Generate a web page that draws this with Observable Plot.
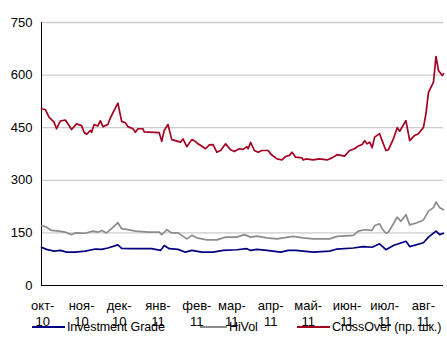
<!DOCTYPE html>
<html>
<head>
<meta charset="utf-8">
<script src="https://cdn.jsdelivr.net/npm/d3@7"></script>
<script src="https://cdn.jsdelivr.net/npm/@observablehq/plot@0.6"></script>
<style>
  html, body { margin: 0; padding: 0; background: #fff; }
  #wrap { position: relative; width: 447px; height: 338px; font-family: "Liberation Sans", Arial, sans-serif; overflow: hidden; }
  #legend { position: absolute; left: 0; top: 318px; width: 447px; height: 20px; font-size: 12.5px; letter-spacing: -0.1px; color: #000; }
  .item { position: absolute; top: 0; height: 18px; display: flex; align-items: center; white-space: nowrap; }
  .swatch { display: inline-block; height: 2px; margin-right: 2px; }
</style>
</head>
<body>
<div id="wrap">
  <div id="chart"></div>
  <div id="legend"></div>
</div>
<script>
// Month labels (Russian abbreviations)
const monthNames = ["янв","фев","мар","апр","май","июн","июл","авг","сен","окт","ноя","дек"];
const yTicks = [0, 150, 300, 450, 600, 750];
const seriesNames = ["Investment Grade", "HiVol", "CrossOver (пр. шк.)"];
const seriesColors = ["#000080", "#8c8c8c", "#a50021"];

const investmentGrade = [
  ["2010-09-30",109],["2010-10-04",103],["2010-10-10",98],["2010-10-15",100],["2010-10-20",95],
  ["2010-10-27",95],["2010-11-04",98],["2010-11-12",104],["2010-11-17",103],["2010-11-22",107],
  ["2010-11-30",116],["2010-12-03",106],["2010-12-11",105],["2010-12-19",105],["2010-12-27",105],
  ["2011-01-03",100],["2011-01-06",114],["2011-01-10",105],["2011-01-17",103],["2011-01-23",95],
  ["2011-01-28",100],["2011-02-05",95],["2011-02-14",95],["2011-02-22",100],["2011-03-05",102],
  ["2011-03-13",105],["2011-03-16",100],["2011-03-21",103],["2011-03-29",100],["2011-04-09",95],
  ["2011-04-15",100],["2011-04-21",100],["2011-04-27",98],["2011-05-05",95],["2011-05-18",98],
  ["2011-05-24",104],["2011-06-06",107],["2011-06-14",111],["2011-06-21",109],["2011-06-27",119],
  ["2011-07-02",102],["2011-07-08",114],["2011-07-18",126],["2011-07-21",111],["2011-08-01",122],
  ["2011-08-05",138],["2011-08-11",155],["2011-08-14",145],["2011-08-17",149]
];

const hiVol = [
  ["2010-09-30",171],["2010-10-04",166],["2010-10-08",157],["2010-10-14",155],["2010-10-19",152],
  ["2010-10-24",145],["2010-10-27",150],["2010-11-04",149],["2010-11-10",155],["2010-11-14",152],
  ["2010-11-17",157],["2010-11-21",150],["2010-11-26",166],["2010-11-30",179],["2010-12-03",162],
  ["2010-12-07",160],["2010-12-14",155],["2010-12-25",152],["2011-01-02",152],["2011-01-04",145],
  ["2011-01-08",159],["2011-01-12",150],["2011-01-17",150],["2011-01-24",133],["2011-01-28",143],
  ["2011-02-01",136],["2011-02-09",130],["2011-02-17",130],["2011-02-24",138],["2011-03-05",138],
  ["2011-03-11",145],["2011-03-16",138],["2011-03-21",141],["2011-03-29",136],["2011-04-06",133],
  ["2011-04-11",136],["2011-04-19",140],["2011-04-27",136],["2011-05-05",133],["2011-05-18",133],
  ["2011-05-24",140],["2011-06-06",143],["2011-06-10",155],["2011-06-15",159],["2011-06-21",157],
  ["2011-06-23",171],["2011-06-27",176],["2011-06-29",162],["2011-07-02",149],["2011-07-04",152],
  ["2011-07-08",176],["2011-07-11",195],["2011-07-14",183],["2011-07-18",202],["2011-07-21",173],
  ["2011-07-27",179],["2011-08-01",187],["2011-08-05",212],["2011-08-09",222],["2011-08-11",238],
  ["2011-08-14",222],["2011-08-17",216]
];

const crossOver = [
  ["2010-09-30",504],["2010-10-03",502],["2010-10-06",480],["2010-10-10",466],["2010-10-12",447],
  ["2010-10-15",469],["2010-10-19",472],["2010-10-22",456],["2010-10-24",445],["2010-10-28",461],
  ["2010-11-01",456],["2010-11-03",437],["2010-11-05",431],["2010-11-08",442],["2010-11-09",437],
  ["2010-11-11",459],["2010-11-14",455],["2010-11-16",470],["2010-11-18",453],["2010-11-22",459],
  ["2010-11-24",478],["2010-11-30",520],["2010-12-03",468],["2010-12-06",464],["2010-12-08",453],
  ["2010-12-12",447],["2010-12-14",437],["2010-12-16",447],["2010-12-20",447],["2010-12-21",438],
  ["2011-01-02",436],["2011-01-04",411],["2011-01-06",442],["2011-01-09",459],["2011-01-12",416],
  ["2011-01-17",411],["2011-01-19",409],["2011-01-21",418],["2011-01-24",396],["2011-01-28",416],
  ["2011-01-30",413],["2011-02-02",404],["2011-02-08",390],["2011-02-11",401],["2011-02-14",402],
  ["2011-02-17",380],["2011-02-20",385],["2011-02-24",404],["2011-02-28",387],["2011-03-03",382],
  ["2011-03-07",390],["2011-03-10",388],["2011-03-13",396],["2011-03-14",390],["2011-03-16",408],
  ["2011-03-19",385],["2011-03-22",380],["2011-03-25",385],["2011-03-30",385],["2011-04-01",375],
  ["2011-04-06",361],["2011-04-10",358],["2011-04-13",368],["2011-04-16",371],["2011-04-18",380],
  ["2011-04-21",366],["2011-04-26",364],["2011-04-27",358],["2011-04-29",361],["2011-05-05",358],
  ["2011-05-10",361],["2011-05-16",358],["2011-05-20",364],["2011-05-24",373],["2011-05-30",369],
  ["2011-06-03",385],["2011-06-07",390],["2011-06-10",398],["2011-06-13",402],["2011-06-15",413],
  ["2011-06-17",404],["2011-06-19",409],["2011-06-21",393],["2011-06-23",423],["2011-06-27",433],
  ["2011-06-29",413],["2011-07-02",385],["2011-07-04",387],["2011-07-08",418],["2011-07-11",450],
  ["2011-07-13",440],["2011-07-18",470],["2011-07-21",413],["2011-07-25",428],["2011-07-28",433],
  ["2011-08-01",451],["2011-08-03",490],["2011-08-05",551],["2011-08-09",580],["2011-08-11",653],
  ["2011-08-13",613],["2011-08-16",599],["2011-08-17",604]
];

const parse = d3.utcParse("%Y-%m-%d");
const seriesData = [investmentGrade, hiVol, crossOver];
const rows = [];
seriesData.forEach((arr, i) => arr.forEach(([d, v]) => rows.push({date: parse(d), value: v, series: seriesNames[i]})));

const xStart = parse("2010-09-30"), xEnd = parse("2011-08-17");
const monthTicks = d3.utcMonth.range(parse("2010-10-01"), parse("2011-08-02"));
const fmt = d => `${monthNames[d.getUTCMonth()]}-\n${String(d.getUTCFullYear()).slice(2)}`;

const chart = Plot.plot({
  width: 447,
  height: 338,
  marginLeft: 41,
  marginRight: 4,
  marginTop: 22,
  marginBottom: 53,
  style: {fontFamily: "'Liberation Sans', Arial, sans-serif", fontSize: "13px", color: "#000", background: "#fff"},
  x: {type: "utc", domain: [xStart, xEnd]},
  y: {domain: [0, 750]},
  color: {domain: seriesNames, range: seriesColors},
  marks: [
    Plot.gridY(yTicks.filter(t => t > 0), {stroke: "#cccccc", strokeOpacity: 1, strokeWidth: 1.3}),
    Plot.axisY(yTicks, {tickSize: 0, tickPadding: 9, label: null, fontSize: 13, fill: "#000"}),
    Plot.axisX(monthTicks, {tickSize: 0, tickPadding: 12, label: null, tickFormat: fmt, fontSize: 13, lineHeight: 1.3, fill: "#000"}),
    Plot.ruleY([0], {stroke: "#000", strokeWidth: 1}),
    Plot.ruleX([xStart], {stroke: "#000", strokeWidth: 1}),
    Plot.line(rows, {x: "date", y: "value", z: "series", stroke: "series", strokeWidth: 1.7, strokeLinejoin: "round"})
  ]
});
document.getElementById("chart").appendChild(chart);

// Legend
const legendPos = [{line: 32, w: 33}, {line: 200, w: 27}, {line: 297, w: 33}];
const legend = document.getElementById("legend");
seriesNames.forEach((name, i) => {
  const item = document.createElement("div");
  item.className = "item";
  item.style.left = legendPos[i].line + "px";
  const sw = document.createElement("span");
  sw.className = "swatch";
  sw.style.width = legendPos[i].w + "px";
  sw.style.background = seriesColors[i];
  const tx = document.createElement("span");
  tx.textContent = name;
  item.appendChild(sw);
  item.appendChild(tx);
  legend.appendChild(item);
});
</script>
</body>
</html>
